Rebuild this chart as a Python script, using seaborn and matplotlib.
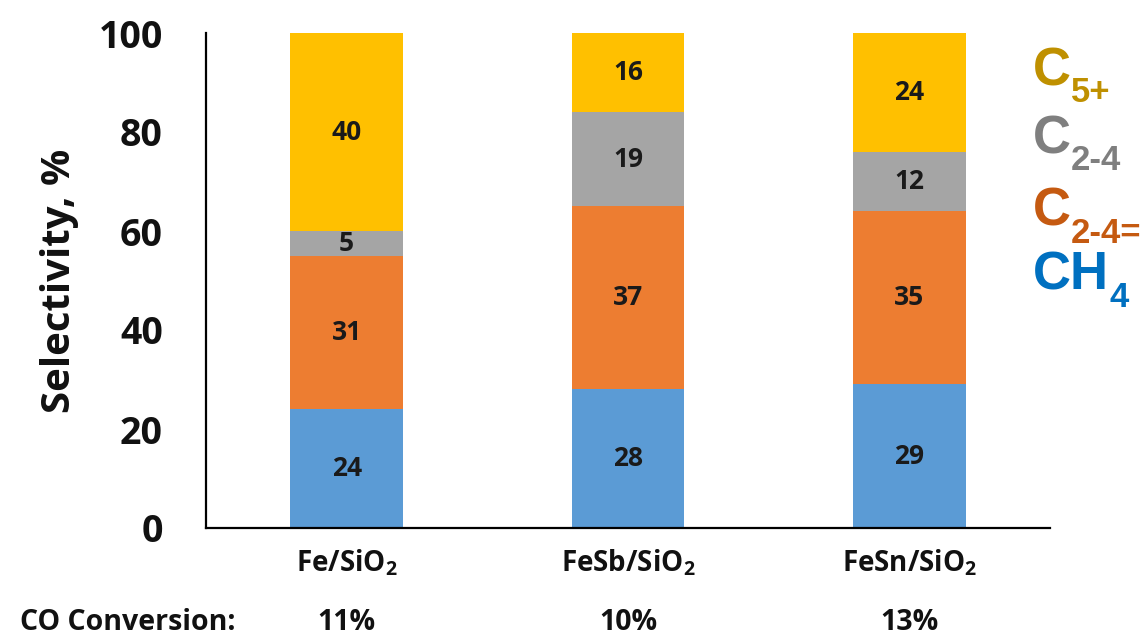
import numpy as np
import pandas as pd
import matplotlib
matplotlib.use("Agg")
import matplotlib.pyplot as plt
from matplotlib import font_manager
import seaborn as sns

# --- data -------------------------------------------------------------------
catalysts = ["Fe/SiO$_\\mathbf{2}$", "FeSb/SiO$_\\mathbf{2}$", "FeSn/SiO$_\\mathbf{2}$"]
conversion = ["11%", "10%", "13%"]
products = ["CH4", "C2-4=", "C2-4", "C5+"]
ch4 = [24, 28, 29]
c24_olefin = [31, 37, 35]
c24_paraffin = [5, 19, 12]
c5_plus = [40, 16, 24]

bar_colors = {"CH4": "#5B9BD5", "C2-4=": "#ED7D31", "C2-4": "#A5A5A5", "C5+": "#FFC000"}
key_colors = {"CH4": "#0070C0", "C2-4=": "#C55A11", "C2-4": "#7F7F7F", "C5+": "#BF9000"}
key_main = {"CH4": "CH", "C2-4=": "C", "C2-4": "C", "C5+": "C"}
key_sub = {"CH4": "4", "C2-4=": "2-4=", "C2-4": "2-4", "C5+": "5+"}

# --- fonts ------------------------------------------------------------------
sns.set_theme(style="white")
available = {f.name for f in font_manager.fontManager.ttflist}
main_font = "Open Sans" if "Open Sans" in available else "DejaVu Sans"
plt.rcParams["font.family"] = [main_font, "DejaVu Sans"]
plt.rcParams["font.weight"] = "bold"
plt.rcParams["mathtext.fontset"] = "custom"
plt.rcParams["mathtext.bf"] = f"{main_font}:bold"
plt.rcParams["mathtext.rm"] = f"{main_font}:bold"

values = {"CH4": ch4, "C2-4=": c24_olefin, "C2-4": c24_paraffin, "C5+": c5_plus}
rows = []
for i, cat in enumerate(catalysts):
    for p in products:
        rows.append({"catalyst": cat, "product": p, "value": values[p][i]})
df = pd.DataFrame(rows)
df["top"] = df.groupby("catalyst", sort=False)["value"].cumsum()
df["bottom"] = df["top"] - df["value"]

W, H = 1148, 637
fig = plt.figure(figsize=(W / 100, H / 100), dpi=100)
ax = fig.add_axes([206 / W, 1 - 528 / H, 844 / W, 495 / H])

# stacked bars: draw cumulative tops from the highest layer down
for p in reversed(products):
    sub = df[df["product"] == p]
    sns.barplot(data=sub, x="catalyst", y="top", order=catalysts, color=bar_colors[p],
                width=0.4, saturation=1, ax=ax, errorbar=None, linewidth=0)

for _, r in df.iterrows():
    xi = catalysts.index(r["catalyst"])
    ax.text(xi, (r["bottom"] + r["top"]) / 2, f"{r['value']:g}", ha="center", va="center",
            fontsize=19, fontweight="bold", color="#1a1a1a")

ax.set_ylim(0, 100)
ax.set_xlim(-0.5, 2.5)
ax.set_yticks(np.arange(0, 101, 20))
ax.tick_params(axis="y", labelsize=27, pad=31, length=0)
ax.tick_params(axis="x", labelsize=20, pad=14, length=0)
for lab in ax.get_yticklabels() + ax.get_xticklabels():
    lab.set_fontweight("bold")
    lab.set_color("#111111")
ax.set_xlabel("")
ax.set_ylabel("Selectivity, %", fontsize=29, fontweight="bold", labelpad=14, color="#111111")
sns.despine(ax=ax)
for s in ("left", "bottom"):
    ax.spines[s].set_color("black")
    ax.spines[s].set_linewidth(1.6)

# CO conversion row beneath the category labels
fig.text(20 / W, 1 - 622 / H, "CO Conversion:", fontsize=20.5, fontweight="bold",
         ha="left", va="center", color="#111111")
for i, c in enumerate(conversion):
    xd, _ = ax.transData.transform((i, 0))
    fig.text(xd / W, 1 - 622 / H, c, fontsize=20.5, fontweight="bold",
             ha="center", va="center", color="#111111")

# colour key at the right: large symbol with a dropped subscript
renderer = fig.canvas.get_renderer()
key_baseline = {"C5+": 85, "C2-4": 153, "C2-4=": 226, "CH4": 290}
key_family = ["Liberation Sans", "DejaVu Sans"]
for p in products:
    yb = key_baseline[p]
    t = fig.text(1033 / W, 1 - yb / H, key_main[p], fontsize=38, fontweight="bold",
                 color=key_colors[p], ha="left", va="baseline", family=key_family)
    x_end = t.get_window_extent(renderer).x1
    fig.text(x_end / W, 1 - (yb + 17) / H, key_sub[p], fontsize=25, fontweight="bold",
             color=key_colors[p], ha="left", va="baseline", family=key_family)

fig.savefig("out.png", dpi=100)
